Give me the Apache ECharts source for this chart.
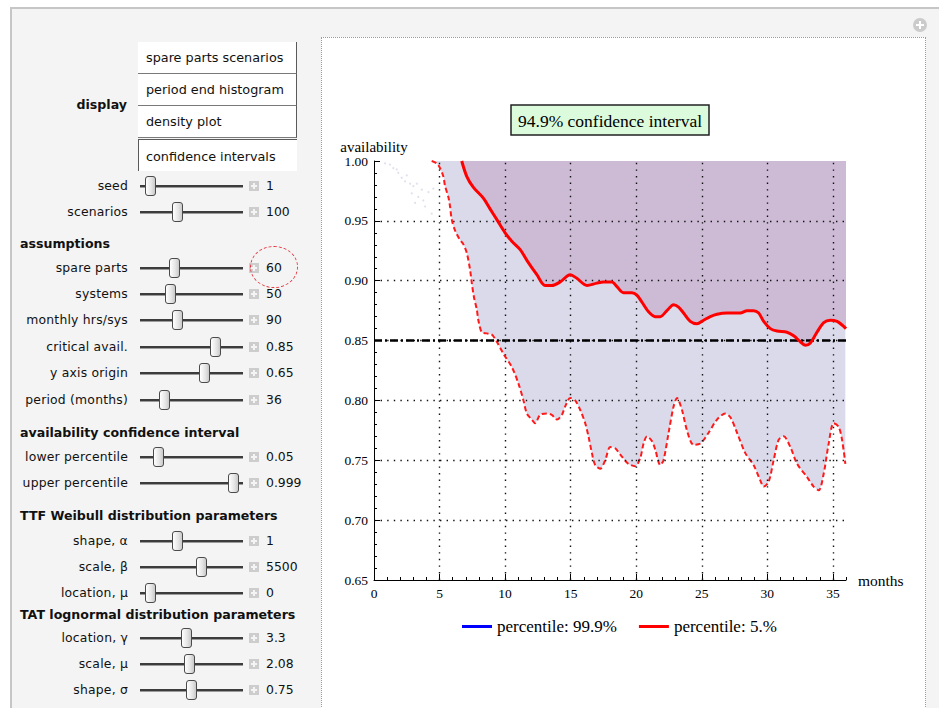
<!DOCTYPE html>
<html>
<head>
<meta charset="utf-8">
<script src="https://cdn.jsdelivr.net/npm/echarts@6/dist/echarts.min.js"></script>
<style>
  html, body { margin:0; padding:0; width:939px; height:708px; overflow:hidden; background:#fff;
    font-family:"DejaVu Sans", Verdana, sans-serif; color:#111; }
  #frame { position:absolute; left:10px; top:7px; width:940px; height:710px; background:#f4f4f4;
    border-left:2px solid #c6c6c6; border-top:2px solid #c6c6c6; z-index:0; }
  #pane { position:absolute; left:321px; top:37px; width:603px; height:680px; background:#fff;
    border:1px dotted #9a9a9a; z-index:1; }
  #chart { position:absolute; left:0; top:0; width:939px; height:708px; z-index:2; }
  #controls { position:absolute; left:0; top:0; width:320px; height:708px; z-index:3; }
  .btn { position:absolute; left:138px; width:159px; height:32px; box-sizing:border-box; background:#fff;
    font-size:12.8px; line-height:31px; padding-left:8px; white-space:nowrap; }
  .btn.up { border-right:1px solid #5a5a5a; border-bottom:1px solid #7a7a7a; }
  .btn.down { border-left:1px solid #5a5a5a; border-top:1px solid #5a5a5a; padding-left:7px; line-height:33px; }
  .lbl { position:absolute; left:0; width:128px; text-align:right; font-size:12.4px; letter-spacing:0.2px;
    height:18px; line-height:18px; white-space:nowrap; }
  .hdr { position:absolute; left:20px; font-weight:bold; font-size:12.6px; height:18px; line-height:18px;
    white-space:nowrap; }
  .track { position:absolute; left:140px; width:103px; height:2px; background:#3c3c3c;
    border-bottom:1px solid #9c9c9c; }
  .thumb { position:absolute; width:9px; height:18px; border:1px solid #4a4a4a; border-radius:3px;
    background:linear-gradient(to right, #ffffff, #e4e4e4 60%, #c9c9c9); box-sizing:content-box; }
  .plus { position:absolute; left:249px; width:10px; height:10px; background:#cdcdcd; }
  .plus::before { content:""; position:absolute; left:4px; top:2px; width:2px; height:6px; background:#f4f4f4; }
  .plus::after { content:""; position:absolute; left:2px; top:4px; width:6px; height:2px; background:#f4f4f4; }
  .val { position:absolute; left:266px; font-size:12.4px; height:18px; line-height:18px; white-space:nowrap; }
  #ring { position:absolute; left:250px; top:246px; width:46px; height:40px; border:1px dashed #e8323c;
    border-radius:50%; }
  #addicon { position:absolute; left:913px; top:18px; width:14px; height:14px; border-radius:50%;
    background:#cbcbcb; z-index:3; }
  #addicon::before { content:""; position:absolute; left:6px; top:3px; width:2px; height:8px; background:#fff; }
  #addicon::after { content:""; position:absolute; left:3px; top:6px; width:8px; height:2px; background:#fff; }
</style>
</head>
<body>
<div id="frame"></div>
<div id="pane"></div>
<div id="addicon"></div>
<div id="chart"></div>
<div id="controls"></div>
<script>
// ---- 5th percentile of availability by month (solid red) ----
const p5Months = [6.69, 7.08, 7.58, 8.34, 8.85, 9.37, 10.00, 10.51, 11.15, 11.66, 12.42, 13.05, 13.56,
  14.20, 14.96, 15.47, 16.24, 17.00, 17.50, 18.15, 18.53, 19.03, 19.67, 20.05, 20.44, 20.94, 21.45,
  21.83, 22.34, 22.85, 23.23, 23.61, 24.12, 24.63, 25.14, 25.65, 26.16, 26.92, 27.94, 28.45, 28.95,
  29.34, 29.72, 30.23, 30.74, 31.50, 32.01, 32.52, 32.90, 33.28, 33.79, 34.30, 34.81, 35.32, 35.70, 36.00];
const p5Avail = [1.000, 0.987, 0.978, 0.969, 0.960, 0.951, 0.940, 0.933, 0.926, 0.917, 0.905, 0.896, 0.896,
  0.899, 0.905, 0.902, 0.896, 0.898, 0.899, 0.899, 0.895, 0.890, 0.890, 0.888, 0.882, 0.874, 0.870,
  0.870, 0.875, 0.880, 0.878, 0.873, 0.866, 0.864, 0.867, 0.870, 0.872, 0.873, 0.873, 0.875, 0.875,
  0.873, 0.866, 0.860, 0.858, 0.857, 0.854, 0.849, 0.846, 0.848, 0.857, 0.865, 0.867, 0.866, 0.863, 0.860];

// ---- lowest scenario availability by month (dashed red, lower edge of the band) ----
const lowMonths = [4.40, 4.78, 5.04, 5.29, 5.42, 5.67, 5.80, 5.93, 6.18, 6.56, 6.79, 7.08, 7.33, 7.46,
  7.63, 7.84, 7.96, 8.22, 8.60, 8.98, 9.37, 9.87, 10.51, 11.02, 11.40, 11.66, 12.04, 12.29, 12.67,
  13.18, 13.56, 13.95, 14.33, 14.58, 14.96, 15.34, 15.73, 16.11, 16.36, 16.62, 16.87, 17.25, 17.63,
  18.02, 18.40, 18.91, 19.41, 19.92, 20.31, 20.56, 20.82, 21.20, 21.45, 21.83, 22.08, 22.47, 22.85,
  23.11, 23.49, 23.87, 24.37, 24.89, 25.52, 26.16, 26.79, 27.18, 27.69, 28.32, 28.95, 29.47, 29.72,
  30.10, 30.48, 30.86, 31.24, 31.76, 32.27, 33.03, 33.53, 33.92, 34.30, 34.68, 35.06, 35.44, 35.70, 35.95];
const lowAvail = [1.000, 0.998, 0.994, 0.987, 0.979, 0.970, 0.962, 0.951, 0.942, 0.934, 0.931, 0.923, 0.909, 0.898,
  0.886, 0.876, 0.867, 0.857, 0.856, 0.855, 0.849, 0.839, 0.828, 0.814, 0.800, 0.789, 0.784, 0.781, 0.788,
  0.789, 0.788, 0.784, 0.788, 0.795, 0.802, 0.800, 0.792, 0.781, 0.770, 0.756, 0.746, 0.743, 0.750,
  0.761, 0.760, 0.753, 0.747, 0.745, 0.752, 0.764, 0.770, 0.766, 0.759, 0.746, 0.750, 0.773, 0.795,
  0.802, 0.792, 0.775, 0.763, 0.764, 0.773, 0.784, 0.789, 0.786, 0.773, 0.756, 0.746, 0.733, 0.728,
  0.732, 0.750, 0.767, 0.770, 0.761, 0.747, 0.736, 0.728, 0.725, 0.739, 0.764, 0.781, 0.778, 0.767, 0.747];

// ---- 99.9th percentile (stays at full availability) ----
const p999Months = [0, 36];
const p999Avail = [1.00, 1.00];

// ---- faint early-month scenario points ----
const dotMonths = [0.84, 1.22, 1.47, 1.73, 1.85, 2.11, 2.37, 2.50, 2.75, 2.88, 3.00, 3.13, 3.26, 3.38,
  3.64, 3.76, 3.89, 4.15, 4.40, 4.53];
const dotAvail = [0.998, 0.997, 0.994, 0.993, 0.990, 0.986, 0.983, 0.988, 0.981, 0.973, 0.979, 0.965,
  0.981, 0.970, 0.976, 0.967, 0.962, 0.974, 0.956, 0.977];

// ---- reference values and axis ticks ----
const criticalAvail = 0.85;
const gridMonths = [5, 10, 15, 20, 25, 30, 35];
const gridAvail = [0.70, 0.75, 0.80, 0.85, 0.90, 0.95];
const titleText = '94.9% confidence interval';
const seriesNames = ['percentile: 99.9%', 'percentile: 5.%'];

const pairs = (xs, ys) => xs.map((x, i) => [x, ys[i]]);
const serif = '"Liberation Serif", "Times New Roman", serif';

const chart = echarts.init(document.getElementById('chart'), null, { renderer: 'svg' });

const baseX = { type: 'value', min: 0, max: 36, position: 'bottom', offset: 0, splitLine: { show: false } };
const baseY = { type: 'value', min: 0.65, max: 1.0, position: 'left', offset: 0, splitLine: { show: false } };

chart.setOption({
  backgroundColor: 'transparent',
  animation: false,
  title: {
    text: titleText, left: 511, top: 105,
    padding: [6, 7, 5, 7],
    backgroundColor: '#dcfbdc', borderColor: '#222', borderWidth: 1.5,
    textStyle: { fontFamily: serif, fontSize: 17.5, fontWeight: 'normal', color: '#000', lineHeight: 19 }
  },
  legend: {
    left: 462, top: 618, padding: 0, icon: 'rect', itemWidth: 30, itemHeight: 3, itemGap: 22,
    data: seriesNames,
    textStyle: { fontFamily: serif, fontSize: 17, color: '#000', padding: [0, 0, 0, 0] }
  },
  grid: { left: 374, top: 161, width: 472, height: 419 },
  xAxis: [
    Object.assign({}, baseX, {
      interval: 5,
      name: 'months', nameLocation: 'end', nameGap: 12,
      nameTextStyle: { fontFamily: serif, fontSize: 15.5, color: '#000' },
      axisLine: { lineStyle: { color: '#000', width: 1 } },
      axisTick: { inside: true, length: 6, lineStyle: { color: '#000' } },
      axisLabel: { fontFamily: serif, fontSize: 13.5, color: '#000', margin: 6, showMaxLabel: false }
    }),
    Object.assign({}, baseX, {
      interval: 1,
      axisLine: { show: false },
      axisTick: { inside: true, length: 3, lineStyle: { color: '#000' } },
      axisLabel: { show: false }
    })
  ],
  yAxis: [
    Object.assign({}, baseY, {
      interval: 0.05,
      name: 'availability', nameLocation: 'end', nameGap: 7,
      nameTextStyle: { fontFamily: serif, fontSize: 15, color: '#000' },
      axisLine: { show: true, lineStyle: { color: '#000', width: 1 } },
      axisTick: { show: true, inside: true, length: 6, lineStyle: { color: '#000' } },
      axisLabel: { fontFamily: serif, fontSize: 13.5, color: '#000', margin: 6,
        formatter: v => v.toFixed(2) }
    }),
    Object.assign({}, baseY, {
      interval: 0.01,
      axisLine: { show: false },
      axisTick: { show: true, inside: true, length: 3, lineStyle: { color: '#000' } },
      axisLabel: { show: false }
    })
  ],
  series: [
    { // band between the lowest scenario and full availability
      name: 'lowest scenario band', type: 'line', z: 1, silent: true,
      data: pairs(lowMonths, lowAvail), smooth: 0.3, showSymbol: false,
      lineStyle: { opacity: 0 },
      areaStyle: { origin: 'end', color: '#dadaeb', opacity: 1 }
    },
    { // region above the 5th percentile
      name: 'p5 band', type: 'line', z: 1, silent: true,
      data: pairs(p5Months, p5Avail), smooth: 0.3, showSymbol: false,
      lineStyle: { opacity: 0 },
      areaStyle: { origin: 'end', color: '#cdbbd6', opacity: 1 }
    },
    {
      name: 'early scenarios', type: 'scatter', z: 1, silent: true,
      data: pairs(dotMonths, dotAvail), symbolSize: 2,
      itemStyle: { color: '#d2d2e6', opacity: 0.7 }
    },
    { // dotted grid on top of the filled regions
      name: 'grid', type: 'line', z: 2, silent: true, data: [],
      markLine: {
        silent: true, symbol: ['none', 'none'], label: { show: false },
        lineStyle: { color: '#111', width: 1.4, type: [1.4, 5.2] },
        data: gridMonths.map(m => ({ xAxis: m })).concat(gridAvail.map(a => ({ yAxis: a })))
      }
    },
    {
      name: 'lowest scenario', type: 'line', z: 3, silent: true,
      data: pairs(lowMonths, lowAvail), smooth: 0.3, showSymbol: false,
      lineStyle: { color: '#ff1a1a', width: 2, type: [5, 3] }
    },
    {
      name: seriesNames[0], type: 'line', z: 3, silent: true,
      data: pairs(p999Months, p999Avail), showSymbol: false,
      itemStyle: { color: '#0000ff' },
      lineStyle: { color: '#0000ff', opacity: 0 }
    },
    {
      name: 'critical availability', type: 'line', z: 4, silent: true, data: [],
      markLine: {
        silent: true, symbol: ['none', 'none'], label: { show: false },
        lineStyle: { color: '#000', width: 2.6, type: [8, 3, 2, 3] },
        data: [{ yAxis: criticalAvail }]
      }
    },
    {
      name: seriesNames[1], type: 'line', z: 5, silent: true,
      data: pairs(p5Months, p5Avail), smooth: 0.3, showSymbol: false,
      itemStyle: { color: '#ff0000' },
      lineStyle: { color: '#ff0000', width: 3 }
    }
  ]
});

// ---- control panel ----
const buttons = [
  ['spare parts scenarios', 42, false],
  ['period end histogram', 74, false],
  ['density plot', 106, false],
  ['confidence intervals', 139, true]
];
const controlRows = [
  ['seed', 186, 150, '1'],
  ['scenarios', 212, 177, '100'],
  ['spare parts', 268, 174, '60'],
  ['systems', 294, 170, '50'],
  ['monthly hrs/sys', 320, 177, '90'],
  ['critical avail.', 347, 215, '0.85'],
  ['y axis origin', 373, 204, '0.65'],
  ['period (months)', 400, 164, '36'],
  ['lower percentile', 457, 158, '0.05'],
  ['upper percentile', 483, 233, '0.999'],
  ['shape, \u03b1', 541, 177, '1'],
  ['scale, \u03b2', 567, 201, '5500'],
  ['location, \u03bc', 593, 150, '0'],
  ['location, \u03b3', 638, 186, '3.3'],
  ['scale, \u03bc', 664, 189, '2.08'],
  ['shape, \u03c3', 690, 191, '0.75']
];
const headers = [
  ['assumptions', 244],
  ['availability confidence interval', 433],
  ['TTF Weibull distribution parameters', 516],
  ['TAT lognormal distribution parameters', 615]
];

const panel = document.getElementById('controls');
let html = '<div class="hdr" style="left:0;width:127px;text-align:right;top:96px">display</div>';
buttons.forEach(([t, y, on]) => {
  html += `<div class="btn ${on ? 'down' : 'up'}" style="top:${y}px">${t}</div>`;
});
controlRows.forEach(([t, cy, tx, v]) => {
  html += `<div class="lbl" style="top:${cy - 9}px">${t}</div>`;
  html += `<div class="track" style="top:${cy - 1}px"></div>`;
  html += `<div class="thumb" style="left:${tx - 5}px;top:${cy - 10}px"></div>`;
  html += `<div class="plus" style="top:${cy - 5}px"></div>`;
  html += `<div class="val" style="top:${cy - 9}px">${v}</div>`;
});
headers.forEach(([t, cy]) => {
  html += `<div class="hdr" style="top:${cy - 9}px">${t}</div>`;
});
html += '<div id="ring"></div>';
panel.innerHTML = html;
</script>
</body>
</html>
